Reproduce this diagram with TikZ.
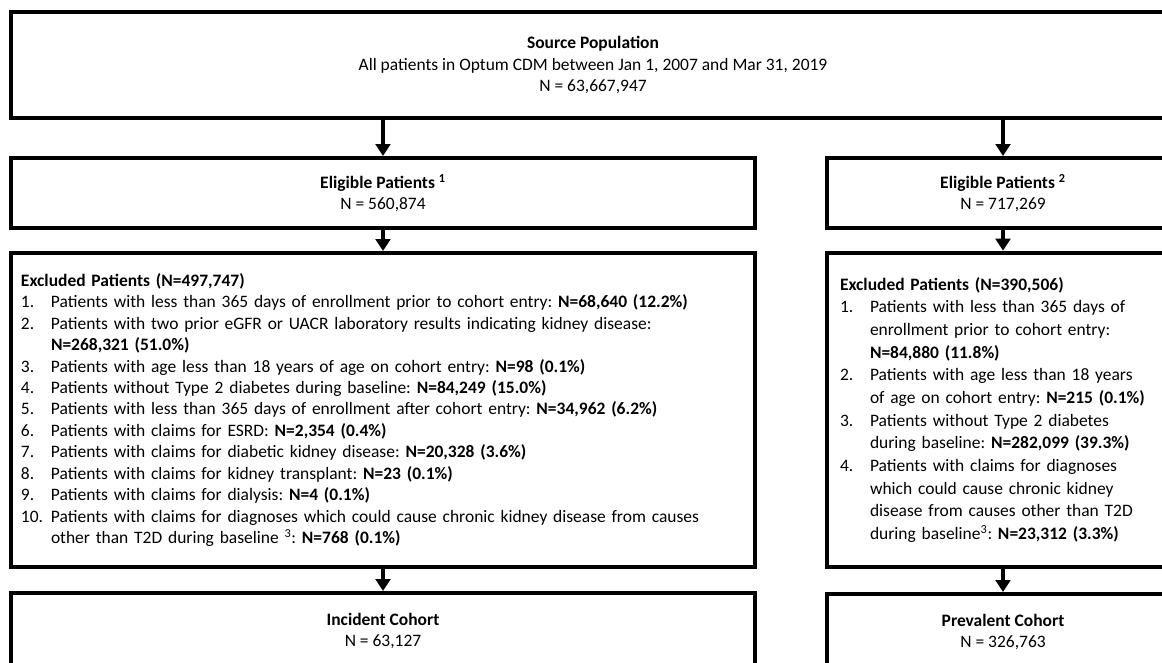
\documentclass[tikz,border=0pt]{standalone}
\usepackage{fontspec}
\setmainfont{Carlito}
\usetikzlibrary{arrows.meta}
\frenchspacing
\newlength\hind
\setlength\hind{22.5pt}
\newcommand\itm[2]{\par\hangindent=\hind\hangafter=1\noindent\makebox[\hind][l]{#1}#2}
\begin{document}
\begin{tikzpicture}[x=0.75pt,y=-0.75pt,
  every node/.style={font=\fontsize{13.1pt}{16.1pt}\selectfont, text=black},
  box/.style={draw=black, line width=3pt, inner sep=0pt},
  listbox/.style={box, inner xsep=#1},
  arr/.style={-{Triangle[width=11pt,length=9pt]}, line width=2.6pt}]
\useasboundingbox (0,0) rectangle (1162,662);
\clip (0,0) rectangle (1162,662);
% source
\node[box, align=center, minimum width=873pt, minimum height=79.5pt] (src) at (593,65)
  {\textbf{Source Population}\\All patients in Optum CDM between Jan 1, 2007 and Mar 31, 2019\\N = 63,667,947};
% eligible
\node[box, align=center, minimum width=558pt, minimum height=52.5pt] (elL) at (383,193)
  {\textbf{Eligible Patients \textsuperscript{1}}\\N = 560,874};
\node[box, align=center, minimum width=264pt, minimum height=52.5pt] (elR) at (1003,193)
  {\textbf{Eligible Patients \textsuperscript{2}}\\N = 717,269};
% excluded
\node[listbox=7.5pt, text width=543pt, minimum height=235.5pt] (exL) at (383,410)
  {\raggedright\noindent\textbf{Excluded Patients (N=497,747)}%
  \itm{1.}{Patients with less than 365 days of enrollment prior to cohort entry: \textbf{N=68,640 (12.2\%)}}%
  \itm{2.}{Patients with two prior eGFR or UACR laboratory results indicating kidney disease:\newline\textbf{N=268,321 (51.0\%)}}%
  \itm{3.}{Patients with age less than 18 years of age on cohort entry: \textbf{N=98 (0.1\%)}}%
  \itm{4.}{Patients without Type 2 diabetes during baseline: \textbf{N=84,249 (15.0\%)}}%
  \itm{5.}{Patients with less than 365 days of enrollment after cohort entry: \textbf{N=34,962 (6.2\%)}}%
  \itm{6.}{Patients with claims for ESRD: \textbf{N=2,354 (0.4\%)}}%
  \itm{7.}{Patients with claims for diabetic kidney disease: \textbf{N=20,328 (3.6\%)}}%
  \itm{8.}{Patients with claims for kidney transplant: \textbf{N=23 (0.1\%)}}%
  \itm{9.}{Patients with claims for dialysis: \textbf{N=4 (0.1\%)}}%
  \itm{10.}{Patients with claims for diagnoses which could cause chronic kidney disease from causes\newline other than T2D during baseline \textsuperscript{3}: \textbf{N=768 (0.1\%)}}\par};
\node[listbox=9.75pt, text width=244.5pt, minimum height=236pt,
      font=\fontsize{13.1pt}{17pt}\selectfont] (exR) at (1003,410)
  {\raggedright\noindent\textbf{Excluded Patients (N=390,506)}%
  \itm{1.}{Patients with less than 365 days of\newline enrollment prior to cohort entry:\newline\textbf{N=84,880 (11.8\%)}}%
  \itm{2.}{Patients with age less than 18 years\newline of age on cohort entry: \textbf{N=215 (0.1\%)}}%
  \itm{3.}{Patients without Type 2 diabetes\newline during baseline: \textbf{N=282,099 (39.3\%)}}%
  \itm{4.}{Patients with claims for diagnoses\newline which could cause chronic kidney\newline disease from causes other than T2D\newline during baseline\textsuperscript{3}: \textbf{N=23,312 (3.3\%)}}\par};
% cohorts
\node[box, align=center, minimum width=558pt, minimum height=57pt] (inc) at (383,631)
  {\textbf{Incident Cohort}\\N = 63,127};
\node[box, align=center, minimum width=264pt, minimum height=57pt] (prev) at (1003,632)
  {\textbf{Prevalent Cohort}\\N = 326,763};
% arrows
\draw[arr] (elL.north |- src.south) -- (elL.north);
\draw[arr] (elR.north |- src.south) -- (elR.north);
\draw[arr] (elL.south) -- (exL.north);
\draw[arr] (elR.south) -- (exR.north);
\draw[arr] (exL.south) -- (inc.north);
\draw[arr] (exR.south) -- (prev.north);
\end{tikzpicture}
\end{document}
